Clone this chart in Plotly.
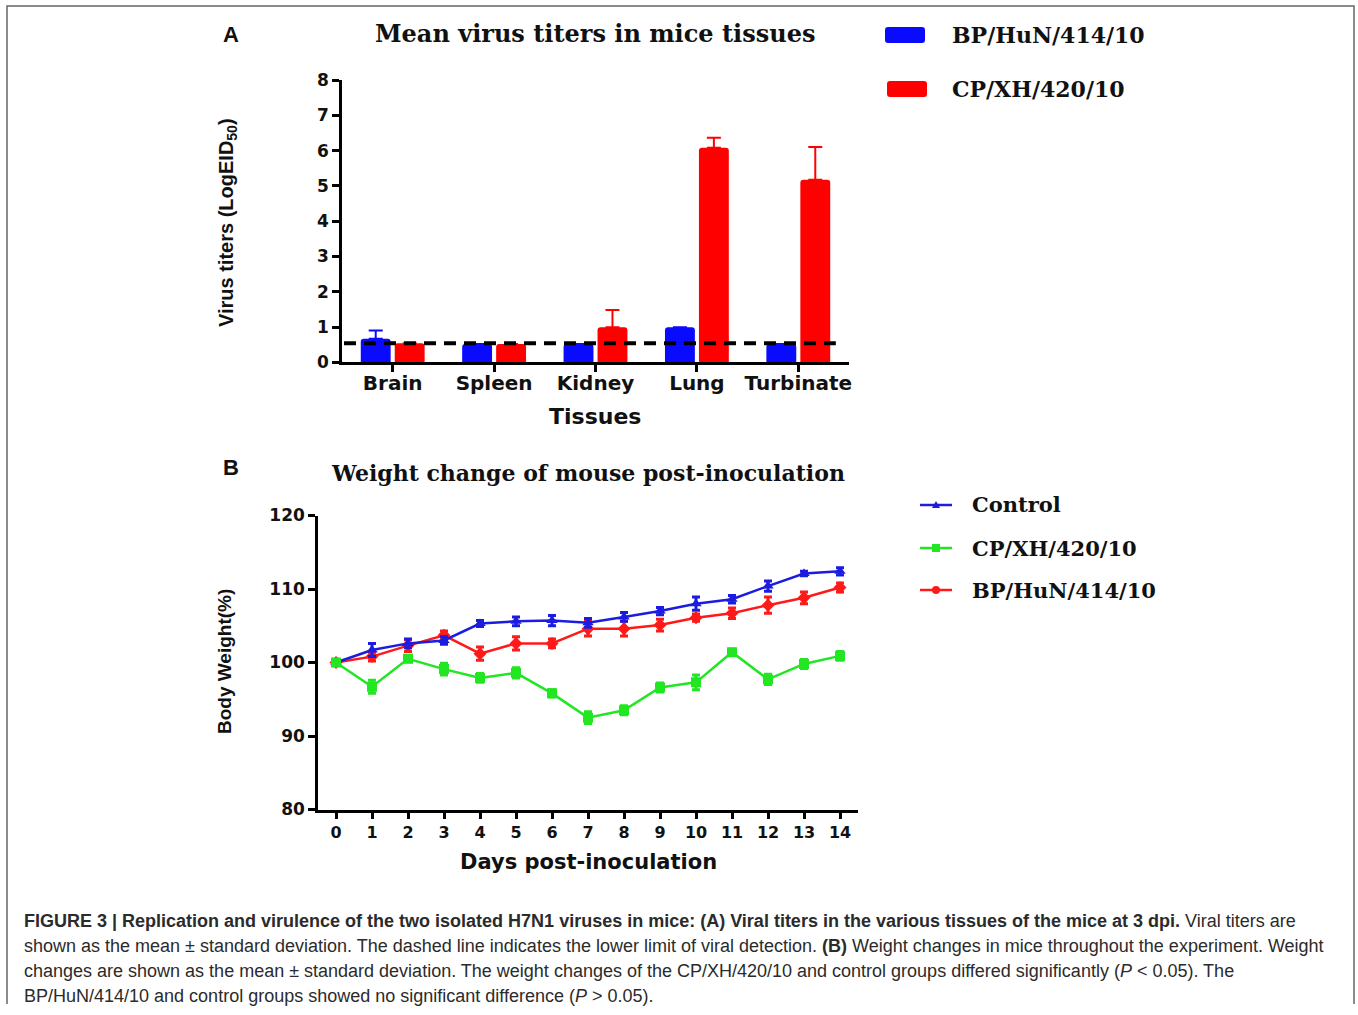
import plotly.graph_objects as go

W, H = 1358, 1015

# ---------------- data ----------------
tissues = ["Brain", "Spleen", "Kidney", "Lung", "Turbinate"]
bp_titer = [0.67, 0.52, 0.52, 0.99, 0.52]
bp_titer_err = [0.23, None, None, None, None]
cp_titer = [0.54, 0.52, 0.99, 6.08, 5.17]
cp_titer_err = [None, None, 0.49, 0.28, 0.93]
detection_limit = 0.54

days = list(range(15))
control_w = [100.0, 101.7, 102.6, 103.0, 105.3, 105.6, 105.7, 105.4, 106.2, 107.0, 108.0, 108.6, 110.4, 112.1, 112.4]
control_err = [0.2, 0.9, 0.6, 0.5, 0.4, 0.6, 0.7, 0.6, 0.6, 0.5, 0.9, 0.5, 0.7, 0.3, 0.5]
cp_w = [100.0, 96.7, 100.5, 99.1, 97.9, 98.6, 95.8, 92.5, 93.5, 96.6, 97.3, 101.4, 97.7, 99.8, 100.9]
cp_err = [0.2, 0.9, 0.4, 0.8, 0.6, 0.7, 0.5, 0.8, 0.6, 0.6, 1.0, 0.4, 0.7, 0.6, 0.6]
bp_w = [100.0, 100.8, 102.3, 103.7, 101.2, 102.6, 102.6, 104.6, 104.6, 105.1, 106.1, 106.7, 107.8, 108.8, 110.2]
bp_err = [0.2, 0.6, 0.8, 0.6, 0.9, 0.9, 0.6, 1.0, 1.0, 0.8, 0.5, 0.7, 1.1, 0.8, 0.6]

legend_a = ["BP/HuN/414/10", "CP/XH/420/10"]
legend_b = ["Control", "CP/XH/420/10", "BP/HuN/414/10"]

caption_lines = [
    "<b>FIGURE 3 | Replication and virulence of the two isolated H7N1 viruses in mice: (A) Viral titers in the various tissues of the mice at 3 dpi.</b> Viral titers are",
    "shown as the mean ± standard deviation. The dashed line indicates the lower limit of viral detection. <b>(B)</b> Weight changes in mice throughout the experiment. Weight",
    "changes are shown as the mean ± standard deviation. The weight changes of the CP/XH/420/10 and control groups differed significantly (<i>P</i> < 0.05). The",
    "BP/HuN/414/10 and control groups showed no significant difference (<i>P</i> > 0.05).",
]

# ---------------- helpers ----------------
def px(x):
    return x / W

def py(y):
    return 1 - y / H

BLUE_A, RED_A = "#0a0aff", "#ff0000"
C_CTRL, C_CP, C_BP = "#1c1ce0", "#22e622", "#ff1a1a"
SANS_B = "DejaVu Sans"
SERIF_B = "DejaVu Serif"
NARROW = "Liberation Sans"

fig = go.Figure()

# ---------------- panel A: bars ----------------
fig.add_trace(go.Bar(
    x=tissues, y=bp_titer, name=legend_a[0], marker=dict(color=BLUE_A, line=dict(width=0), cornerradius=3),
    error_y=dict(type="data", array=bp_titer_err, arrayminus=[0] * 5, symmetric=False,
                 color=BLUE_A, thickness=2, width=7),
    xaxis="x", yaxis="y", showlegend=False))
fig.add_trace(go.Bar(
    x=tissues, y=cp_titer, name=legend_a[1], marker=dict(color=RED_A, line=dict(width=0), cornerradius=3),
    error_y=dict(type="data", array=cp_titer_err, arrayminus=[0] * 5, symmetric=False,
                 color=RED_A, thickness=2, width=7),
    xaxis="x", yaxis="y", showlegend=False))

# ---------------- panel B: lines ----------------
for yv, ev, col, sym, nm in [
    (bp_w, bp_err, C_BP, "diamond", legend_b[2]),
    (control_w, control_err, C_CTRL, "triangle-up", legend_b[0]),
    (cp_w, cp_err, C_CP, "square", legend_b[1]),
]:
    fig.add_trace(go.Scatter(
        x=days, y=yv, mode="lines+markers", name=nm,
        line=dict(color=col, width=2.5),
        marker=dict(symbol=sym, size=10, color=col),
        error_y=dict(type="data", array=ev, color=col, thickness=3, width=4),
        xaxis="x2", yaxis="y2", showlegend=False))

axis_common = dict(showline=True, linecolor="black", linewidth=2.5, ticks="outside",
                   ticklen=7, tickwidth=2.5, tickcolor="black", showgrid=False,
                   zeroline=False, mirror=False, automargin=False)

shapes = []
annotations = []

# dashed detection limit line
shapes.append(dict(type="line", xref="x", yref="y", x0=-0.48, x1=4.37,
                   y0=detection_limit, y1=detection_limit,
                   line=dict(color="black", width=4, dash="12px,8px"), layer="above"))

# frame
shapes.append(dict(type="path", xref="paper", yref="paper",
                   path=f"M {px(7)} {py(1004)} L {px(7)} {py(6)} L {px(1354)} {py(6)} L {px(1354)} {py(1004)}",
                   line=dict(color="#666666", width=1.5)))

# panel A legend swatches
for i, (col, yc) in enumerate([(BLUE_A, 35), (RED_A, 89)]):
    x0, x1 = 885 + 2 * i, 925 + 2 * i
    y0, y1 = yc - 8, yc + 8
    r = 3
    path = (f"M {px(x0 + r)} {py(y0)} L {px(x1 - r)} {py(y0)} Q {px(x1)} {py(y0)} {px(x1)} {py(y0 + r)} "
            f"L {px(x1)} {py(y1 - r)} Q {px(x1)} {py(y1)} {px(x1 - r)} {py(y1)} "
            f"L {px(x0 + r)} {py(y1)} Q {px(x0)} {py(y1)} {px(x0)} {py(y1 - r)} "
            f"L {px(x0)} {py(y0 + r)} Q {px(x0)} {py(y0)} {px(x0 + r)} {py(y0)} Z")
    shapes.append(dict(type="path", xref="paper", yref="paper", path=path,
                       fillcolor=col, line=dict(width=0)))
    annotations.append(dict(xref="paper", yref="paper", x=px(950), y=py(yc), xanchor="left",
                            yanchor="middle", text=f"<b>{legend_a[i]}</b>", showarrow=False,
                            font=dict(family=SERIF_B, size=22, color="#111111")))

# panel B legend
for i, (col, sym, yc) in enumerate([(C_CTRL, "tri", 505), (C_CP, "sq", 548), (C_BP, "circ", 590)]):
    shapes.append(dict(type="line", xref="paper", yref="paper", x0=px(920), x1=px(952),
                       y0=py(yc), y1=py(yc), line=dict(color=col, width=2.5)))
    cx = 936
    if sym == "tri":
        shapes.append(dict(type="path", xref="paper", yref="paper",
                           path=f"M {px(cx-4)} {py(yc+3)} L {px(cx+4)} {py(yc+3)} L {px(cx)} {py(yc-4)} Z",
                           fillcolor=col, line=dict(width=0)))
    elif sym == "sq":
        shapes.append(dict(type="rect", xref="paper", yref="paper", x0=px(cx-4), x1=px(cx+4),
                           y0=py(yc-4), y1=py(yc+4), fillcolor=col, line=dict(width=0)))
    else:
        shapes.append(dict(type="circle", xref="paper", yref="paper", x0=px(cx-4), x1=px(cx+4),
                           y0=py(yc-4), y1=py(yc+4), fillcolor=col, line=dict(width=0)))
    annotations.append(dict(xref="paper", yref="paper", x=px(970), y=py(yc), xanchor="left",
                            yanchor="middle", text=f"<b>{legend_b[i]}</b>", showarrow=False,
                            font=dict(family=SERIF_B, size=21, color="#111111")))

def ann(text, x, y, size, family, angle=0, xanchor="center", color="#111111"):
    annotations.append(dict(xref="paper", yref="paper", x=px(x), y=py(y), text=text,
                            showarrow=False, xanchor=xanchor, yanchor="middle", textangle=angle,
                            font=dict(family=family, size=size, color=color)))

ann("<b>A</b>", 231, 34, 22, "Liberation Sans")
ann("<b>B</b>", 231, 468, 22, "Liberation Sans")
ann("<b>Mean virus titers in mice tissues</b>", 595, 33, 24, SERIF_B)
ann("<b>Weight change of mouse post-inoculation</b>", 588, 473, 22, SERIF_B)
ann("<b>Tissues</b>", 595, 417, 22, SANS_B)
ann("<b>Days post-inoculation</b>", 588, 862, 21, SANS_B)
ann("<b>Virus titers (LogEID<sub>50</sub>)</b>", 228, 222, 20, NARROW, angle=-90)
ann("<b>Body Weight(%)</b>", 224, 662, 19, NARROW, angle=-90)

for i, (line, yc) in enumerate(zip(caption_lines, [921, 946, 971, 996])):
    ann(line, 22, yc, 18, "Liberation Sans", xanchor="left", color="#2b2b2b")

tick_bold = lambda s: dict(family=SANS_B, size=s, color="#111111", weight="bold")

fig.update_layout(
    width=W, height=H, margin=dict(l=0, r=0, t=0, b=0, pad=0, autoexpand=False),
    paper_bgcolor="white", plot_bgcolor="white",
    barmode="group", bargap=0.33, bargroupgap=0.12,
    xaxis=dict(domain=[px(342), px(849)], anchor="y", range=[-0.5, 4.5],
               tickfont=tick_bold(20), ticklabelstandoff=-6, **axis_common),
    yaxis=dict(domain=[py(362.3), py(80)], anchor="x", range=[0, 8], dtick=1,
               tickfont=tick_bold(17), **axis_common),
    xaxis2=dict(domain=[px(318), px(858)], anchor="y2", range=[-0.5, 14.5],
                tickvals=days, tickfont=tick_bold(16), **axis_common),
    yaxis2=dict(domain=[py(809.5), py(515.5)], anchor="x2", range=[80, 120], dtick=10,
                tickfont=tick_bold(17), **axis_common),
    shapes=shapes, annotations=annotations, showlegend=False,
)

post = ("document.body.style.margin='0';document.body.style.padding='0';"
        "document.documentElement.style.overflow='hidden';document.body.style.overflow='hidden';")
fig.write_html("out.html", config={"displayModeBar": False}, post_script=post)
